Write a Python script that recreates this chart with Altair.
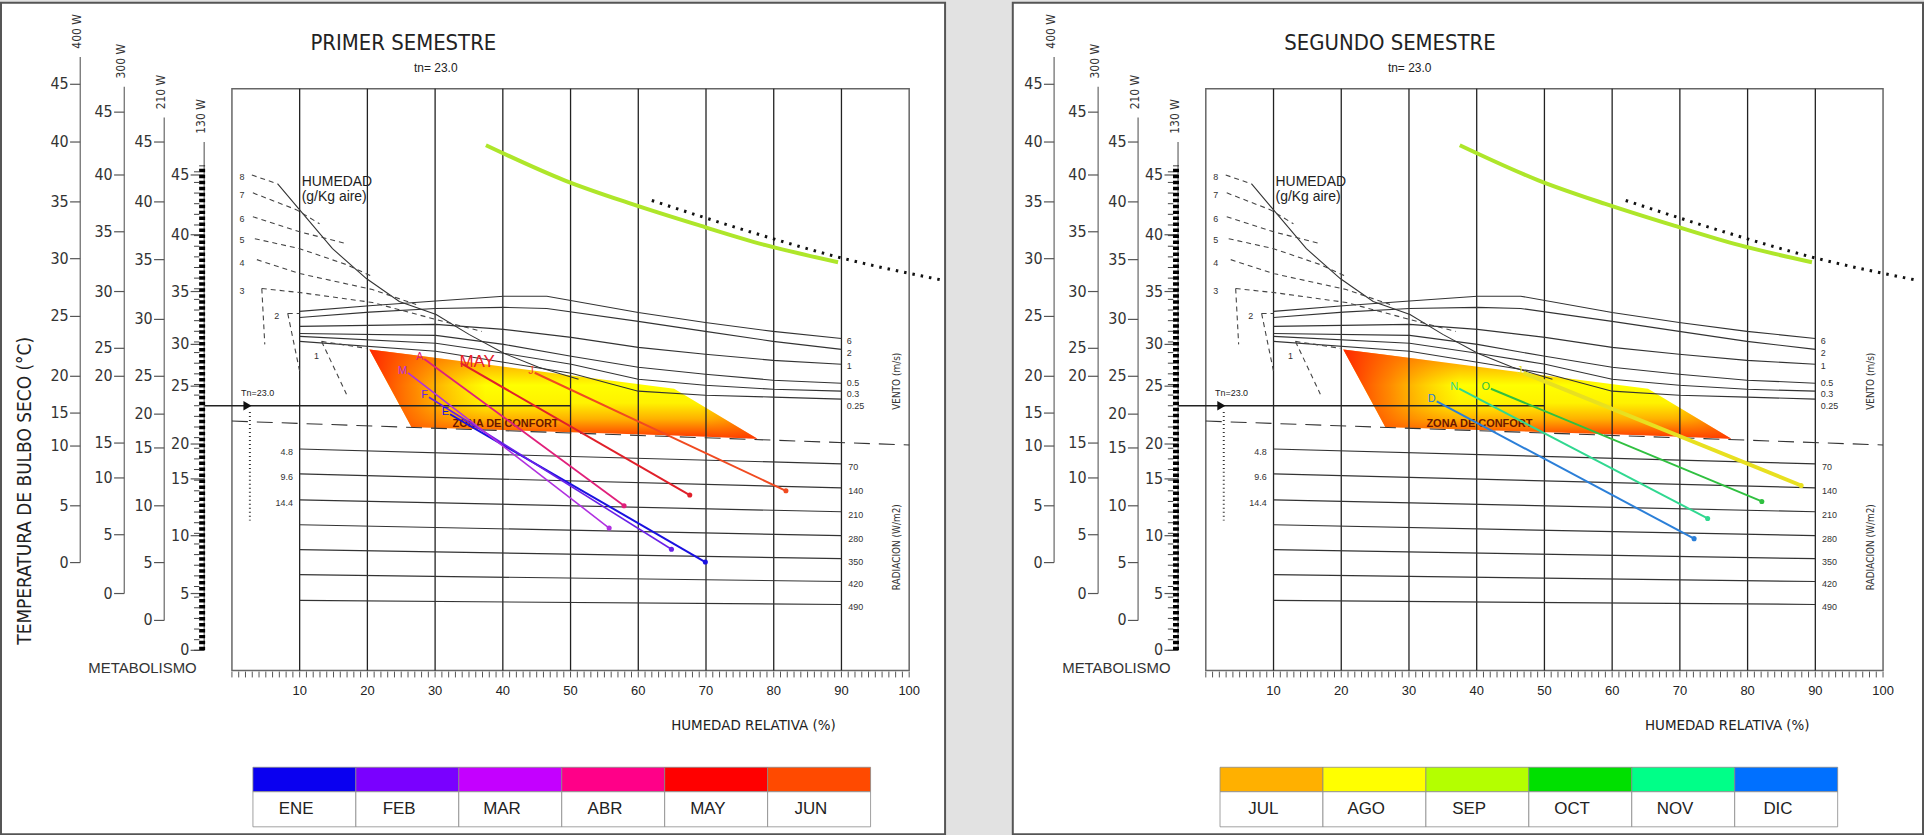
import altair as alt
import pandas as pd

FONT_N = "Liberation Sans Narrow, Arial Narrow, DejaVu Sans Condensed, Liberation Sans, sans-serif"
FONT = "Liberation Sans, Arial, sans-serif"

# ---------------- chart extents (x: relative humidity %, y: temperature °C) ----------------
Y_DOMAIN = [-17.3, 60.9]
X_DOMAIN_1 = [-34.1, 105.3]
X_DOMAIN_2 = [-28.5, 105.9]
FRAME_RH = [0, 100]
FRAME_T = [-1.9, 52.8]

RH_GRID = [10, 20, 30, 40, 50, 60, 70, 80, 90]
RH_LABELS = [10, 20, 30, 40, 50, 60, 70, 80, 90, 100]
RH_MINOR = list(range(0, 101))

# ---------------- metabolism scales (value -> position on the temperature axis) ----------------
SCALE_VALUES = [0, 5, 10, 15, 20, 25, 30, 35, 40, 45]
SCALE_NAMES = ["400 W", "300 W", "210 W", "130 W"]
SCALE_RH = [-22.4, -15.9, -10.0, -4.1]
SCALE_TOP = [55.8, 53.0, 50.1, 47.8]
SCALE_POS = {
    "400 W": [8.25, 13.59, 19.21, 22.31, 25.77, 31.40, 36.83, 42.17, 47.80, 53.23],
    "300 W": [5.34, 10.87, 16.21, 19.49, 25.77, 28.40, 33.74, 39.36, 44.70, 50.61],
    "210 W": [2.81, 8.25, 13.59, 19.03, 22.21, 25.77, 31.12, 36.74, 42.17, 47.80],
    "130 W": [0.0, 5.34, 10.78, 16.12, 19.40, 24.84, 28.77, 33.74, 39.08, 44.70],
}
MET_MINOR = list(range(0, 46))

# ---------------- comfort zone polygon ----------------
ZONE_RH = [20.3, 26.5, 65.3, 77.6]
ZONE_TOP = [28.3, 27.8, 24.6, 19.9]
ZONE_BOT = [28.3, 21.0, 20.2, 19.9]

# ---------------- radiation lines (W/m2) ----------------
RAD_LABELS = ["70", "140", "210", "280", "350", "420", "490"]
RAD_LEFT_LABELS = ["4.8", "9.6", "14.4"]
RAD_RH = [10, 90]
RAD_T_LEFT = [18.93, 16.59, 14.15, 11.81, 9.47, 7.12, 4.69]
RAD_T_RIGHT = [17.53, 15.28, 13.03, 10.78, 8.62, 6.47, 4.31]

# ---------------- wind lines (m/s) ----------------
WIND_LABELS = ["6", "2", "1", "0.5", "0.3", "0.25"]
WIND_LABEL_T = [29.05, 27.93, 26.71, 25.12, 24.09, 22.96]
WIND_RH = [
    [10, 20.3, 30.1, 40.1, 46.5, 60, 69.9, 79.9, 90],
    [10, 20.3, 30.1, 40.1, 46.5, 60, 69.9, 79.9, 90],
    [10, 30.1, 40.1, 50.1, 60, 69.9, 79.9, 90],
    [10, 30.1, 40.1, 50.1, 60, 69.9, 79.9, 90],
    [10, 30.1, 40.1, 50.1, 60, 69.9, 79.9, 90],
    [10, 30.1, 40.1, 50.1, 60, 69.9, 79.9, 90],
]
WIND_T = [
    [31.87, 32.40, 32.85, 33.30, 33.30, 31.77, 30.83, 29.99, 29.33],
    [31.30, 31.80, 32.15, 32.25, 32.15, 30.93, 29.99, 29.05, 28.30],
    [30.46, 30.65, 30.18, 29.43, 28.49, 27.84, 27.27, 26.90],
    [29.80, 29.62, 28.77, 27.65, 26.62, 25.96, 25.40, 25.12],
    [29.52, 28.87, 27.93, 26.90, 25.49, 24.93, 24.55, 24.37],
    [29.05, 28.12, 27.09, 26.05, 24.37, 23.99, 23.81, 23.62],
]

# ---------------- humidity (g/kg) ----------------
HUM_CURVE_RH = [6.76, 10, 14.85, 19.85, 24.71, 30.15, 35.0, 40.15, 45.29, 51.18]
HUM_CURVE_T = [43.86, 41.42, 37.77, 34.96, 32.80, 31.58, 29.71, 27.93, 26.62, 25.49]
HUM_DASH_RH = [
    [2.94, 6.76], [3.09, 9.56, 12.94], [3.09, 10, 16.91], [3.38, 10, 16.91, 20.74],
    [3.68, 10, 20.74, 27.2], [4.41, 10, 20.74, 29.56, 36.9], [4.41, 4.85],
    [8.24, 10], [8.24, 10], [13.24, 19.85], [13.24, 16.91],
]
HUM_DASH_T = [
    [44.70, 43.86], [43.02, 41.42, 40.11], [40.77, 39.36, 38.24], [38.71, 37.77, 36.27, 35.15],
    [36.74, 35.43, 33.93, 32.52], [34.02, 33.65, 32.71, 31.21, 29.99], [34.02, 28.77],
    [31.68, 31.68], [31.68, 26.24], [29.05, 28.40], [29.05, 24.09],
]
HUM_LABELS = ["8", "7", "6", "5", "4", "3", "2", "1"]
HUM_LABEL_RH = [1.47, 1.47, 1.47, 1.47, 1.47, 1.47, 6.62, 12.5]
HUM_LABEL_T = [44.5, 42.83, 40.58, 38.61, 36.46, 33.83, 31.40, 27.65]

# ---------------- other reference lines ----------------
TN = 23.0
TN_RH = [-4.1, 50.0]
DASHLINE_RH = [0, 100]
DASHLINE_T = [21.56, 19.31]
GREEN_RH = [37.5, 49.1, 59.0, 68.8, 78.8, 89.5]
GREEN_T = [47.5, 44.2, 41.98, 40.0, 38.1, 36.5]
DOTTED_RH = [62.0, 76.3, 90.0, 105.0]
DOTTED_T = [42.3, 39.4, 36.9, 34.8]

# ---------------- months ----------------
MONTHS_1 = ["ENE", "FEB", "MAR", "ABR", "MAY", "JUN"]
COLORS_1 = ["#0a00f0", "#7a00ff", "#c400ff", "#ff0088", "#ff0000", "#ff4a00"]
LINE_COLORS_1 = ["#1a10e0", "#6a20e8", "#b030e0", "#e0207a", "#e0202a", "#f04a20"]
START_RH_1 = [32.2, 29.1, 26.0, 28.4, 33.8, 44.7]
START_T_1 = [22.2, 23.8, 26.1, 27.4, 27.0, 26.1]
END_RH_1 = [69.9, 64.9, 55.7, 57.9, 67.6, 81.8]
END_T_1 = [8.3, 9.5, 11.5, 13.6, 14.6, 15.0]
INITIALS_1 = ["E", "F", "M", "A", "", "J"]
WIDTH_1 = [2.0, 1.6, 1.6, 1.8, 2.0, 2.0]

MONTHS_2 = ["JUL", "AGO", "SEP", "OCT", "NOV", "DIC"]
COLORS_2 = ["#ffb000", "#ffff00", "#b4ff00", "#00e000", "#00ff88", "#0070ff"]
LINE_MONTHS_2 = ["AGO", "OCT", "NOV", "DIC"]
LINE_COLORS_2 = ["#e8e020", "#30c040", "#30d890", "#2b7fd8"]
START_RH_2 = [46.9, 42.1, 37.4, 34.1]
START_T_2 = [26.1, 24.6, 24.6, 23.4]
END_RH_2 = [87.9, 82.1, 74.1, 72.1]
END_T_2 = [15.5, 14.0, 12.4, 10.5]
INITIALS_2 = ["J", "O", "N", "D"]
WIDTH_2 = [4.0, 2.0, 2.0, 2.0]

LEGEND_RH0 = [3.1, 2.1]
LEGEND_W = 15.2
LEGEND_T = [-11.0, -13.3, -16.6]


def panel(title, xdom, months, colors, line_months, line_colors, s_rh, s_t, e_rh, e_t, initials, widths,
          legend_rh0, show_ylabel, show_may):
    X = lambda f="rh": alt.X(f"{f}:Q", scale=alt.Scale(domain=xdom, nice=False, zero=False), axis=None)
    Y = lambda f="t": alt.Y(f"{f}:Q", scale=alt.Scale(domain=Y_DOMAIN, nice=False, zero=False), axis=None)
    cscale = alt.Scale(domain=months, range=colors)
    lscale = alt.Scale(domain=line_months, range=line_colors)
    layers = []

    def lines_df(rhs, ts):
        rows = []
        for i, (rr, tt) in enumerate(zip(rhs, ts)):
            for j, (r, t) in enumerate(zip(rr, tt)):
                rows.append({"id": i, "o": j, "rh": r, "t": t})
        return pd.DataFrame(rows)

    def texts(rhs, ts, labels, **kw):
        df = pd.DataFrame({"rh": rhs, "t": ts, "txt": labels})
        return alt.Chart(df).mark_text(**kw).encode(x=X(), y=Y(), text="txt:N")

    # comfort zone (vertical gradient + red fade at the left corner)
    zone = pd.DataFrame({"rh": ZONE_RH, "t": ZONE_TOP, "t2": ZONE_BOT})
    vgrad = alt.LinearGradient(
        gradient="linear", x1=0, y1=0, x2=0, y2=1,
        stops=[alt.GradientStop(color="#ff7a00", offset=0.0),
               alt.GradientStop(color="#ffb800", offset=0.18),
               alt.GradientStop(color="#ffff00", offset=0.4),
               alt.GradientStop(color="#fff200", offset=0.6),
               alt.GradientStop(color="#ffb000", offset=0.78),
               alt.GradientStop(color="#ff6a00", offset=0.9),
               alt.GradientStop(color="#ff3000", offset=1.0)])
    hgrad = alt.LinearGradient(
        gradient="linear", x1=0, y1=0, x2=1, y2=0,
        stops=[alt.GradientStop(color="rgba(255,40,0,1)", offset=0.0),
               alt.GradientStop(color="rgba(255,90,0,0.7)", offset=0.12),
               alt.GradientStop(color="rgba(255,140,0,0.0)", offset=0.3),
               alt.GradientStop(color="rgba(255,140,0,0.0)", offset=0.85),
               alt.GradientStop(color="rgba(255,60,0,0.6)", offset=1.0)])
    layers.append(alt.Chart(zone).mark_area(color=vgrad, interpolate="linear").encode(
        x=X(), y=Y(), y2="t2:Q"))
    layers.append(alt.Chart(zone).mark_area(color=hgrad, interpolate="linear").encode(
        x=X(), y=Y(), y2="t2:Q"))

    # frame
    fr = pd.DataFrame({"rh": [FRAME_RH[0]], "rh2": [FRAME_RH[1]], "t": [FRAME_T[0]], "t2": [FRAME_T[1]]})
    layers.append(alt.Chart(fr).mark_rect(filled=False, stroke="#666", strokeWidth=1.5).encode(
        x=X(), x2="rh2:Q", y=Y(), y2="t2:Q"))

    # vertical grid
    g = pd.DataFrame({"rh": RH_GRID, "t": FRAME_T[0], "t2": FRAME_T[1]})
    layers.append(alt.Chart(g).mark_rule(color="#222", strokeWidth=1.3).encode(x=X(), y=Y(), y2="t2:Q"))

    # bottom minor ticks + labels
    mt = pd.DataFrame({"rh": RH_MINOR, "t": FRAME_T[0] - 0.1, "t2": FRAME_T[0] - 0.65})
    layers.append(alt.Chart(mt).mark_rule(color="#555", strokeWidth=1).encode(x=X(), y=Y(), y2="t2:Q"))
    layers.append(texts(RH_LABELS, [-3.8] * 10, [str(v) for v in RH_LABELS],
                        font=FONT, fontSize=13, color="#222", align="center", baseline="middle"))
    layers.append(texts([77.0], [-7.0], ["HUMEDAD RELATIVA (%)"],
                        font=FONT_N, fontSize=15, color="#222", align="center", baseline="middle"))

    # radiation lines
    rad = lines_df([RAD_RH] * 7, [[a, b] for a, b in zip(RAD_T_LEFT, RAD_T_RIGHT)])
    layers.append(alt.Chart(rad).mark_line(color="#333", strokeWidth=1.2).encode(
        x=X(), y=Y(), detail="id:N", order="o:Q"))
    layers.append(texts([91.0] * 7, RAD_T_RIGHT, RAD_LABELS, font=FONT, fontSize=9, color="#333",
                        align="left", baseline="middle", dy=3))
    layers.append(texts([9.0] * 3, RAD_T_LEFT[:3], RAD_LEFT_LABELS, font=FONT, fontSize=9, color="#333",
                        align="right", baseline="middle", dy=3))

    # wind lines
    layers.append(alt.Chart(lines_df(WIND_RH, WIND_T)).mark_line(color="#333", strokeWidth=1.1).encode(
        x=X(), y=Y(), detail="id:N", order="o:Q"))
    layers.append(texts([90.8] * 6, WIND_LABEL_T, WIND_LABELS, font=FONT, fontSize=9, color="#333",
                        align="left", baseline="middle"))
    layers.append(texts([98.2], [25.3], ["VENTO (m/s)"], font=FONT_N, fontSize=10, color="#333",
                        align="center", baseline="middle", angle=270))
    layers.append(texts([98.2], [9.7], ["RADIACION (W/m2)"], font=FONT_N, fontSize=10, color="#333",
                        align="center", baseline="middle", angle=270))

    # humidity curve & dashed vapour lines
    layers.append(alt.Chart(lines_df([HUM_CURVE_RH], [HUM_CURVE_T])).mark_line(
        color="#333", strokeWidth=1.1).encode(x=X(), y=Y(), order="o:Q"))
    layers.append(alt.Chart(lines_df(HUM_DASH_RH, HUM_DASH_T)).mark_line(
        color="#444", strokeWidth=1.1, strokeDash=[5, 4]).encode(x=X(), y=Y(), detail="id:N", order="o:Q"))
    layers.append(texts(HUM_LABEL_RH, HUM_LABEL_T, HUM_LABELS, font=FONT, fontSize=9, color="#333",
                        align="center", baseline="middle"))
    layers.append(texts([10.3, 10.3], [44.05, 42.6], ["HUMEDAD", "(g/Kg aire)"], font=FONT, fontSize=14,
                        color="#222", align="left", baseline="middle"))

    # long dash line
    layers.append(alt.Chart(lines_df([DASHLINE_RH], [DASHLINE_T])).mark_line(
        color="#333", strokeWidth=1.1, strokeDash=[16, 9]).encode(x=X(), y=Y(), order="o:Q"))

    # Tn line, arrow, dotted drop
    tn = pd.DataFrame({"rh": [TN_RH[0]], "rh2": [TN_RH[1]], "t": [TN]})
    layers.append(alt.Chart(tn).mark_rule(color="#222", strokeWidth=1.3).encode(x=X(), x2="rh2:Q", y=Y()))
    layers.append(alt.Chart(pd.DataFrame({"rh": [2.3], "t": [TN]})).mark_point(
        shape="triangle-right", filled=True, color="#111", size=90, opacity=1).encode(x=X(), y=Y()))
    layers.append(alt.Chart(pd.DataFrame({"rh": [2.65], "t": [22.4], "t2": [12.2]})).mark_rule(
        color="#333", strokeWidth=2, strokeDash=[1, 3]).encode(x=X(), y=Y(), y2="t2:Q"))
    layers.append(texts([3.8], [24.2], [f"Tn={TN:.1f}"], font=FONT, fontSize=9, color="#222",
                        align="center", baseline="middle"))

    # green curve and dotted line
    layers.append(alt.Chart(lines_df([GREEN_RH], [GREEN_T])).mark_line(
        color="#aee62a", strokeWidth=4, interpolate="monotone").encode(x=X(), y=Y(), order="o:Q"))
    layers.append(alt.Chart(lines_df([DOTTED_RH], [DOTTED_T])).mark_line(
        color="#111", strokeWidth=3, strokeDash=[2.5, 6], interpolate="monotone").encode(x=X(), y=Y(), order="o:Q"))

    # zone label
    layers.append(texts([40.4], [21.3], ["ZONA DE CONFORT"], font=FONT, fontSize=11, fontWeight="bold",
                        color="#6a1800", align="center", baseline="middle"))

    # month lines
    mrows = []
    for m, a, b, c, d, w in zip(line_months, s_rh, s_t, e_rh, e_t, widths):
        mrows.append({"month": m, "o": 0, "rh": a, "t": b, "w": w})
        mrows.append({"month": m, "o": 1, "rh": c, "t": d, "w": w})
    mdf = pd.DataFrame(mrows)
    layers.append(alt.Chart(mdf).mark_line().encode(
        x=X(), y=Y(), detail="month:N", order="o:Q",
        strokeWidth=alt.StrokeWidth("w:Q", scale=None, legend=None),
        stroke=alt.Stroke("month:N", scale=lscale, legend=None)))
    edf = pd.DataFrame({"month": line_months, "rh": e_rh, "t": e_t})
    layers.append(alt.Chart(edf).mark_circle(size=26, opacity=1).encode(
        x=X(), y=Y(), fill=alt.Fill("month:N", scale=lscale, legend=None)))
    idf = pd.DataFrame({"month": line_months, "rh": s_rh, "t": s_t, "txt": initials})
    layers.append(alt.Chart(idf).mark_text(font=FONT, fontSize=11, align="right", baseline="bottom",
                                           dx=-1, dy=3).encode(
        x=X(), y=Y(), text="txt:N", fill=alt.Fill("month:N", scale=lscale, legend=None)))
    if show_may:
        layers.append(texts([33.6], [27.1], ["MAY"], font=FONT, fontSize=17, color="#e8202a",
                            align="left", baseline="middle"))

    # metabolism scales
    srows, trows, lrows = [], [], []
    for name, xr, top in zip(SCALE_NAMES, SCALE_RH, SCALE_TOP):
        pos = SCALE_POS[name]
        srows.append({"rh": xr, "t": pos[0], "t2": top})
        for v, p in zip(SCALE_VALUES, pos):
            if name == "130 W":
                trows.append({"rh": xr - 2.0, "rh2": xr, "t": p})
                lrows.append({"rh": xr - 2.2, "t": p, "txt": str(v)})
            else:
                trows.append({"rh": xr - 1.5, "rh2": xr, "t": p})
                lrows.append({"rh": xr - 1.7, "t": p, "txt": str(v)})
    layers.append(alt.Chart(pd.DataFrame(srows)).mark_rule(color="#666", strokeWidth=1.2).encode(
        x=X(), y=Y(), y2="t2:Q"))
    layers.append(alt.Chart(pd.DataFrame(trows)).mark_rule(color="#555", strokeWidth=1.2).encode(
        x=X(), x2="rh2:Q", y=Y()))
    layers.append(alt.Chart(pd.DataFrame(lrows)).mark_text(
        font=FONT_N, fontSize=16, color="#333", align="right", baseline="middle").encode(
        x=X(), y=Y(), text="txt:N"))
    layers.append(texts([x - 0.5 for x in SCALE_RH], [t + 2.4 for t in SCALE_TOP], SCALE_NAMES,
                        font=FONT_N, fontSize=12, color="#333", align="center", baseline="middle",
                        angle=270))
    # checkered 130 W bar and minor ticks
    layers.append(alt.Chart(pd.DataFrame({"rh": [SCALE_RH[3] - 0.3], "t": [0.0], "t2": [45.6]})).mark_rule(
        color="#000", strokeWidth=6, strokeDash=[3.5, 2.5]).encode(x=X(), y=Y(), y2="t2:Q"))
    mm = pd.DataFrame({"rh": SCALE_RH[3] - 1.5, "rh2": SCALE_RH[3] - 0.7, "t": MET_MINOR})
    layers.append(alt.Chart(mm).mark_rule(color="#444", strokeWidth=1).encode(x=X(), x2="rh2:Q", y=Y()))
    layers.append(texts([-13.2], [-1.7], ["METABOLISMO"], font=FONT, fontSize=15, color="#333",
                        align="center", baseline="middle"))

    # titles
    layers.append(texts([11.6], [57.1], [title], font=FONT_N, fontSize=22, color="#222",
                        align="left", baseline="middle"))
    layers.append(texts([30.1], [54.8], [f"tn= {TN:.1f}"], font=FONT, fontSize=12, color="#222",
                        align="center", baseline="middle"))
    if show_ylabel:
        layers.append(texts([-30.6], [15.0], ["TEMPERATURA DE BULBO SECO (°C)"], font=FONT_N, fontSize=19,
                            color="#222", align="center", baseline="middle", angle=270))

    # legend
    lg = pd.DataFrame({"month": months,
                       "rh": [legend_rh0 + i * LEGEND_W for i in range(6)],
                       "rh2": [legend_rh0 + (i + 1) * LEGEND_W for i in range(6)],
                       "rhc": [legend_rh0 + (i + 0.42) * LEGEND_W for i in range(6)]})
    layers.append(alt.Chart(lg).mark_rect(stroke="#888", strokeWidth=0.8).encode(
        x=X(), x2="rh2:Q", y=alt.datum(LEGEND_T[0], scale=alt.Scale(domain=Y_DOMAIN, nice=False)),
        y2=alt.datum(LEGEND_T[1]), color=alt.Color("month:N", scale=cscale, legend=None)))
    layers.append(alt.Chart(lg).mark_rect(stroke="#888", strokeWidth=0.8, fill="white").encode(
        x=X(), x2="rh2:Q", y=alt.datum(LEGEND_T[1]), y2=alt.datum(LEGEND_T[2])))
    layers.append(alt.Chart(lg).mark_text(font=FONT, fontSize=17, color="#222", align="center",
                                          baseline="middle").encode(
        x=X("rhc"), y=alt.datum((LEGEND_T[1] + LEGEND_T[2]) / 2), text="month:N"))

    return alt.layer(*layers)


left = panel("PRIMER SEMESTRE", X_DOMAIN_1, MONTHS_1, COLORS_1, MONTHS_1, LINE_COLORS_1,
             START_RH_1, START_T_1, END_RH_1, END_T_1, INITIALS_1, WIDTH_1, LEGEND_RH0[0], True, True
             ).properties(width=948, height=835)
right = panel("SEGUNDO SEMESTRE", X_DOMAIN_2, MONTHS_2, COLORS_2, LINE_MONTHS_2, LINE_COLORS_2,
              START_RH_2, START_T_2, END_RH_2, END_T_2, INITIALS_2, WIDTH_2, LEGEND_RH0[1], False, False
              ).properties(width=914, height=835)

chart = alt.hconcat(left, right, spacing=62).resolve_scale(
    x="independent", y="independent", color="independent", stroke="independent", fill="independent",
    strokeWidth="independent"
).properties(padding=0, background="#e2e2e2").configure_view(fill="white", stroke="#555", strokeWidth=2)

chart.save("out.html", embed_options={"renderer": "svg", "actions": False})
